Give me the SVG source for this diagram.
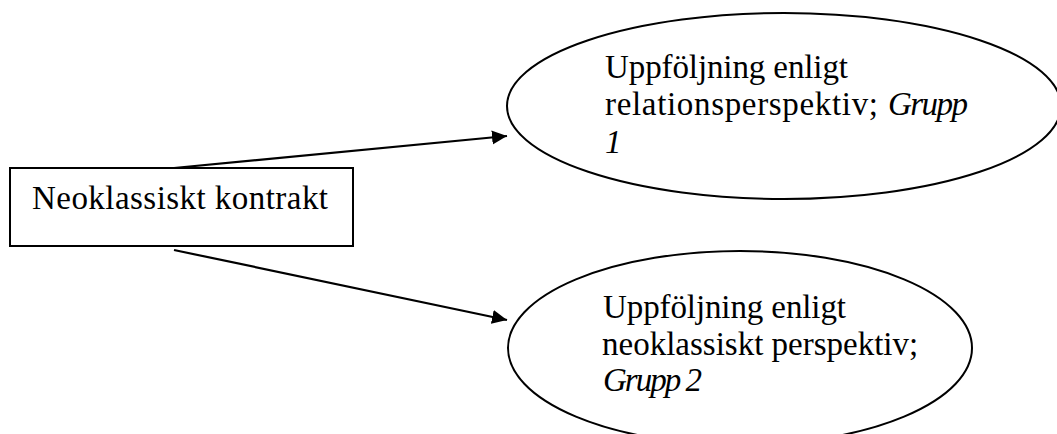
<svg xmlns="http://www.w3.org/2000/svg" width="1057" height="434" viewBox="0 0 1057 434">
  <style>
    .shape { fill: #ffffff; stroke: #000000; stroke-width: 2; }
    .link { fill: none; stroke: #000000; stroke-width: 2.2; }
    .lbl { font-family: "Liberation Serif", "DejaVu Serif", serif; font-size: 33px; fill: #000000; }
    .it { font-style: italic; }
  </style>
  <defs>
    <marker id="arrow" markerUnits="userSpaceOnUse" markerWidth="16" markerHeight="16" viewBox="0 0 16 16" refX="15" refY="8" orient="auto">
      <path d="M0,1 L15,8 L0,15 Z" fill="#000000"/>
    </marker>
  </defs>
  <rect width="1057" height="434" fill="#ffffff"/>

  <g id="connectors">
    <line class="link" x1="174" y1="168" x2="507" y2="136" marker-end="url(#arrow)"/>
    <line class="link" x1="174" y1="250" x2="507" y2="320" marker-end="url(#arrow)"/>
  </g>

  <g id="contract">
    <rect class="shape" x="10" y="168" width="343" height="78"/>
    <text class="lbl" x="32" y="209" textLength="296">Neoklassiskt kontrakt</text>
  </g>

  <g id="relation-group">
    <ellipse class="shape" cx="784" cy="106" rx="277" ry="93"/>
    <text class="lbl" x="605" y="78" textLength="243">Uppföljning enligt</text>
    <text class="lbl" x="605" y="115" textLength="273">relationsperspektiv;</text>
    <text class="lbl it" x="888" y="115" textLength="80">Grupp</text>
    <text class="lbl it" x="605" y="153">1</text>
  </g>

  <g id="neoclassical-group">
    <ellipse class="shape" cx="740" cy="348" rx="232" ry="97"/>
    <text class="lbl" x="603" y="318" textLength="243">Uppföljning enligt</text>
    <text class="lbl" x="602" y="355">neoklassiskt perspektiv;</text>
    <text class="lbl it" x="603" y="391" textLength="99">Grupp 2</text>
  </g>
</svg>
